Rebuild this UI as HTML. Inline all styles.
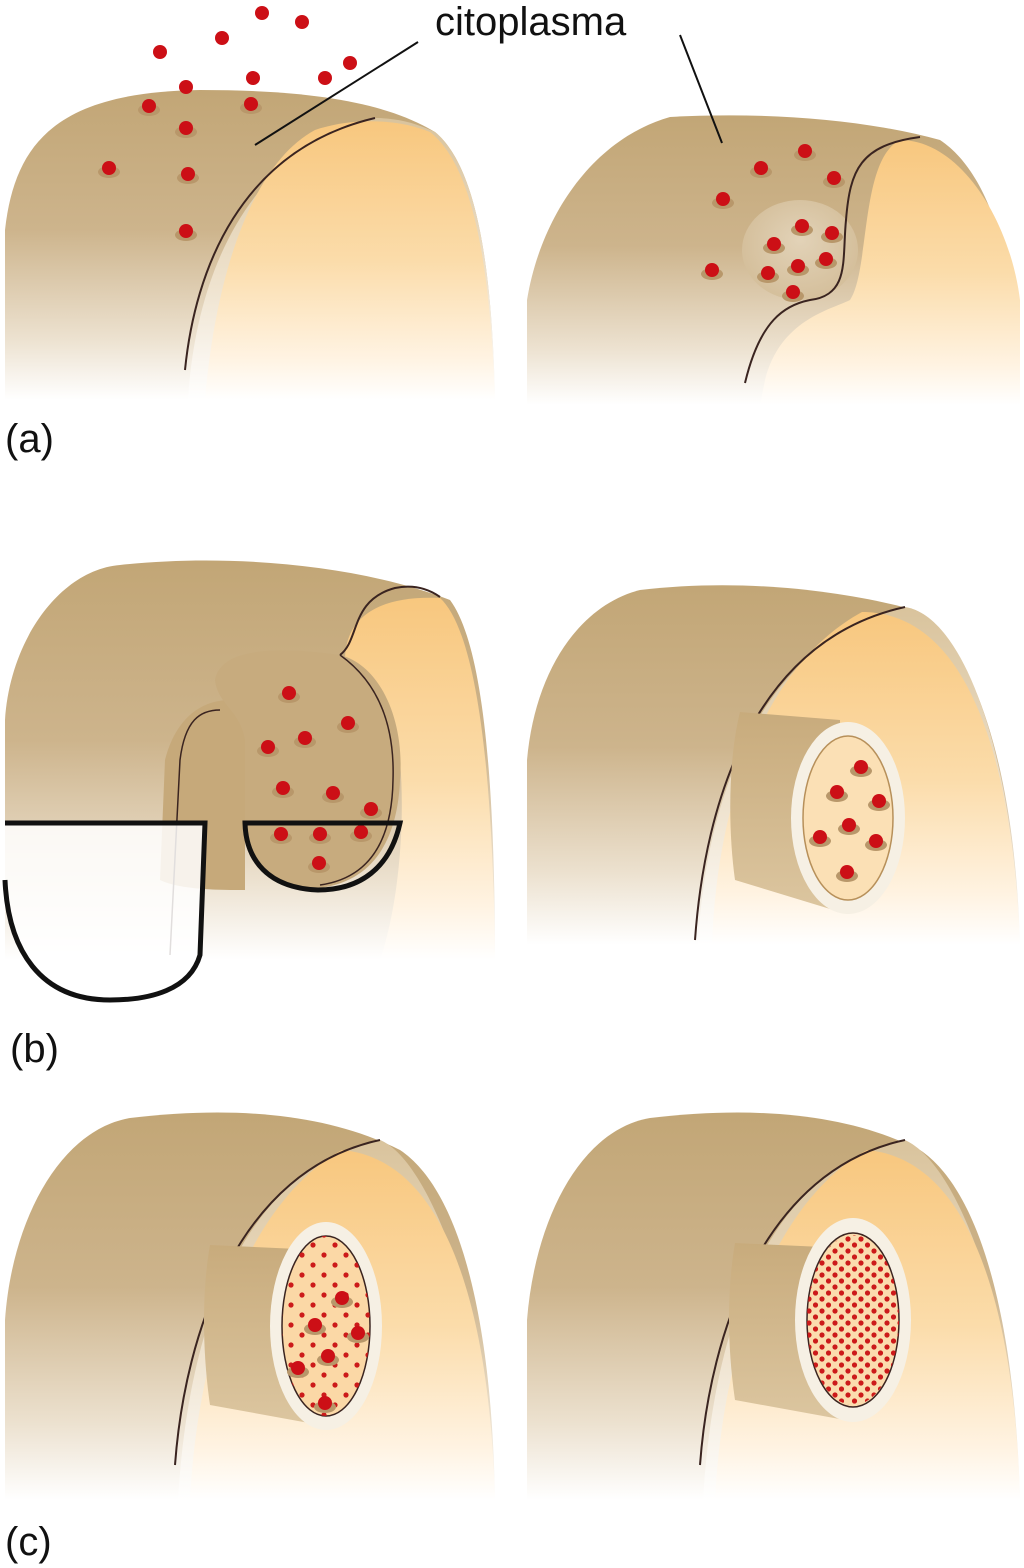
<!DOCTYPE html>
<html><head><meta charset="utf-8"><style>
html,body{margin:0;padding:0;background:#fff;}
svg{display:block;}
text{font-family:"Liberation Sans",sans-serif;fill:#111;}
</style></head><body>
<svg width="1024" height="1568" viewBox="0 0 1024 1568" xmlns="http://www.w3.org/2000/svg">
<defs>
<linearGradient id="tan" x1="0" y1="0" x2="0" y2="1">
<stop offset="0" stop-color="#c2a676"/><stop offset="0.45" stop-color="#cdb48c"/><stop offset="0.8" stop-color="#ece1cf"/><stop offset="1" stop-color="#ffffff"/></linearGradient>
<linearGradient id="lt" x1="0" y1="0" x2="0" y2="1">
<stop offset="0" stop-color="#d9c39c"/><stop offset="0.6" stop-color="#efe3cf"/><stop offset="1" stop-color="#ffffff"/></linearGradient>
<linearGradient id="org" x1="0" y1="0" x2="0" y2="1">
<stop offset="0" stop-color="#f8c77e"/><stop offset="0.5" stop-color="#fbdcaa"/><stop offset="0.85" stop-color="#fff3e2"/><stop offset="1" stop-color="#ffffff"/></linearGradient>
<linearGradient id="tub" x1="0" y1="0" x2="0" y2="1">
<stop offset="0" stop-color="#c8ab7c"/><stop offset="1" stop-color="#dcc6a0"/></linearGradient>
<radialGradient id="blob" cx="0.5" cy="0.4" r="0.6"><stop offset="0" stop-color="#e6d8c0"/><stop offset="1" stop-color="#d3bd98"/></radialGradient>
<g id="dot"><ellipse cx="0" cy="4" rx="11" ry="6" fill="#b8976a"/><circle cx="0" cy="0" r="7" fill="#cc0f16"/></g>
<pattern id="smalldots" width="13" height="12" patternUnits="userSpaceOnUse"><circle cx="3" cy="3" r="2.6" fill="#cc1a1a"/><circle cx="9.5" cy="9" r="2.6" fill="#cc1a1a"/></pattern>
<pattern id="smalldots2" width="22" height="20" patternUnits="userSpaceOnUse"><circle cx="5" cy="5" r="2.6" fill="#cc1a1a"/><circle cx="16" cy="15" r="2.6" fill="#cc1a1a"/></pattern>
<clipPath id="e1"><ellipse cx="853" cy="1320" rx="46" ry="85"/></clipPath>
<clipPath id="e2"><ellipse cx="326" cy="1326" rx="44" ry="90"/></clipPath>
</defs>

<!-- (a) left -->
<path d="M5,400 L5,230 C15,140 60,92 200,90 C310,90 385,102 435,132 C475,165 492,260 495,400 Z" fill="url(#tan)"/>
<path d="M188,400 C195,280 245,150 375,118 C400,118 420,125 435,132 C475,165 492,260 495,400 Z" fill="url(#lt)"/>
<path d="M205,400 C215,280 250,165 315,130 C350,118 395,118 430,132 C472,165 490,260 495,400 Z" fill="url(#org)"/>
<path d="M185,370 C195,270 240,150 375,118" fill="none" stroke="#3a2420" stroke-width="2"/>
<line x1="255" y1="145" x2="418" y2="42" stroke="#111" stroke-width="2"/>
<text x="435" y="35" font-size="40">citoplasma</text>
<g fill="#cc0f16"><circle cx="262" cy="13" r="7"/><circle cx="302" cy="22" r="7"/><circle cx="222" cy="38" r="7"/><circle cx="160" cy="52" r="7"/><circle cx="350" cy="63" r="7"/><circle cx="186" cy="87" r="7"/><circle cx="253" cy="78" r="7"/><circle cx="325" cy="78" r="7"/></g>
<use href="#dot" x="149" y="106"/><use href="#dot" x="251" y="104"/><use href="#dot" x="186" y="128"/><use href="#dot" x="109" y="168"/><use href="#dot" x="188" y="174"/><use href="#dot" x="186" y="231"/>
<text x="5" y="452" font-size="40">(a)</text>

<!-- (a) right -->
<path d="M527,405 L527,300 C540,220 590,140 670,117 C760,112 860,118 940,140 C985,170 1018,250 1020,405 Z" fill="url(#tan)"/>
<path d="M765,380 C780,320 830,310 850,300 C870,270 860,160 900,140 C960,140 1010,220 1020,300 L1020,405 L760,405 Z" fill="url(#org)"/>
<ellipse cx="800" cy="250" rx="58" ry="50" fill="url(#blob)" opacity="0.85"/>
<path d="M745,383 C760,320 785,305 810,300 C850,295 842,260 846,220 C850,170 860,145 920,137" fill="none" stroke="#3a2420" stroke-width="2"/>
<line x1="680" y1="35" x2="722" y2="143" stroke="#111" stroke-width="2"/>
<use href="#dot" x="805" y="151"/><use href="#dot" x="761" y="168"/><use href="#dot" x="834" y="178"/><use href="#dot" x="723" y="199"/><use href="#dot" x="802" y="226"/><use href="#dot" x="832" y="233"/><use href="#dot" x="774" y="244"/><use href="#dot" x="826" y="259"/><use href="#dot" x="798" y="266"/><use href="#dot" x="768" y="273"/><use href="#dot" x="712" y="270"/><use href="#dot" x="793" y="292"/>

<!-- (b) left -->
<path d="M5,960 L5,720 C10,640 60,570 120,565 C230,553 360,565 450,600 C480,640 495,760 495,960 Z" fill="url(#tan)"/>
<path d="M345,660 C345,620 375,595 440,598 C475,630 493,760 495,960 L380,960 C400,900 405,820 400,760 C395,710 370,680 345,660 Z" fill="url(#org)"/>
<path d="M160,880 L165,760 C175,720 200,700 230,700 L245,720 L245,890 C220,890 180,890 160,880 Z" fill="#c6a97a"/>
<path d="M215,680 C220,650 270,645 340,655 C380,665 405,720 400,780 C398,830 380,880 320,888 C270,890 248,860 245,830 L245,740 C240,710 218,705 215,680 Z" fill="#c7ab7e"/>
<path d="M340,655 C360,640 350,600 395,588 C415,584 430,590 440,597" fill="none" stroke="#3a2420" stroke-width="2"/>
<path d="M340,655 C375,680 395,720 393,780 C392,840 370,878 320,885" fill="none" stroke="#3a2420" stroke-width="1.5"/>
<path d="M170,955 L180,760 C185,720 200,710 220,710" fill="none" stroke="#3a2420" stroke-width="1.5"/>
<use href="#dot" x="289" y="693"/><use href="#dot" x="348" y="723"/><use href="#dot" x="305" y="738"/><use href="#dot" x="268" y="747"/><use href="#dot" x="283" y="788"/><use href="#dot" x="333" y="793"/><use href="#dot" x="371" y="809"/><use href="#dot" x="281" y="834"/><use href="#dot" x="320" y="834"/><use href="#dot" x="361" y="832"/><use href="#dot" x="319" y="863"/>
<path d="M5,823 L205,823 L200,955 C190,990 150,1000 110,1000 C40,1000 8,950 5,880" fill="#fff" fill-opacity="0.85" stroke="#111" stroke-width="5"/>
<path d="M245,823 L400,823 C390,868 360,890 318,890 C268,888 246,860 245,823 Z" fill="none" stroke="#111" stroke-width="5"/>
<text x="10" y="1062" font-size="40">(b)</text>

<!-- (b) right -->
<path d="M527,945 L527,760 C535,670 580,605 640,590 C740,578 840,590 915,610 C970,640 1015,760 1020,945 Z" fill="url(#tan)"/>
<path d="M698,945 C705,800 760,640 905,607 C960,615 1012,740 1020,945 Z" fill="url(#lt)"/>
<path d="M712,945 C717,800 765,665 862,612 C960,612 1012,740 1020,945 Z" fill="url(#org)"/>
<path d="M695,940 C705,800 755,640 905,607" fill="none" stroke="#3a2420" stroke-width="2"/>
<path d="M740,712 L840,720 L840,912 L735,880 C728,830 728,760 740,712 Z" fill="url(#tub)"/>
<ellipse cx="848" cy="818" rx="57" ry="96" fill="#f6f0e4"/>
<ellipse cx="848" cy="818" rx="45" ry="82" fill="#fbe0b5" stroke="#b7905a" stroke-width="1.5"/>
<use href="#dot" x="861" y="767"/><use href="#dot" x="837" y="792"/><use href="#dot" x="879" y="801"/><use href="#dot" x="849" y="825"/><use href="#dot" x="820" y="837"/><use href="#dot" x="876" y="841"/><use href="#dot" x="847" y="872"/>

<!-- (c) left -->
<path d="M5,1500 L5,1320 C12,1220 60,1130 130,1118 C240,1105 330,1115 400,1150 C460,1190 492,1320 495,1500 Z" fill="url(#tan)"/>
<path d="M178,1500 C188,1330 240,1170 380,1140 C430,1160 490,1320 495,1500 Z" fill="url(#lt)"/>
<path d="M190,1500 C198,1340 252,1200 342,1150 C450,1160 490,1320 495,1500 Z" fill="url(#org)"/>
<path d="M175,1465 C185,1330 240,1170 380,1140" fill="none" stroke="#3a2420" stroke-width="2"/>
<path d="M210,1245 L320,1250 L320,1425 L210,1405 C202,1350 202,1290 210,1245 Z" fill="url(#tub)"/>
<ellipse cx="326" cy="1326" rx="56" ry="104" fill="#f6f0e4"/>
<ellipse cx="326" cy="1326" rx="44" ry="90" fill="#fbd8a6" stroke="#3a2420" stroke-width="1.5"/>
<rect x="280" y="1236" width="92" height="180" fill="url(#smalldots2)" clip-path="url(#e2)"/>
<use href="#dot" x="342" y="1298"/><use href="#dot" x="315" y="1325"/><use href="#dot" x="358" y="1333"/><use href="#dot" x="328" y="1356"/><use href="#dot" x="298" y="1368"/><use href="#dot" x="325" y="1403"/>
<text x="5" y="1555" font-size="40">(c)</text>

<!-- (c) right -->
<path d="M527,1500 L527,1320 C535,1220 580,1130 650,1118 C760,1105 850,1115 920,1150 C980,1190 1015,1320 1020,1500 Z" fill="url(#tan)"/>
<path d="M703,1500 C713,1330 765,1170 905,1140 C960,1165 1015,1320 1020,1500 Z" fill="url(#lt)"/>
<path d="M715,1500 C723,1340 777,1200 867,1150 C975,1160 1015,1320 1020,1500 Z" fill="url(#org)"/>
<path d="M700,1465 C710,1330 765,1170 905,1140" fill="none" stroke="#3a2420" stroke-width="2"/>
<path d="M735,1243 L845,1248 L845,1420 L735,1400 C727,1345 727,1290 735,1243 Z" fill="url(#tub)"/>
<ellipse cx="853" cy="1320" rx="58" ry="102" fill="#f6f0e4"/>
<ellipse cx="853" cy="1320" rx="46" ry="87" fill="#fbdcae" stroke="#3a2420" stroke-width="1.5"/>
<rect x="805" y="1233" width="96" height="176" fill="url(#smalldots)" clip-path="url(#e1)"/>
</svg>
</body></html>
